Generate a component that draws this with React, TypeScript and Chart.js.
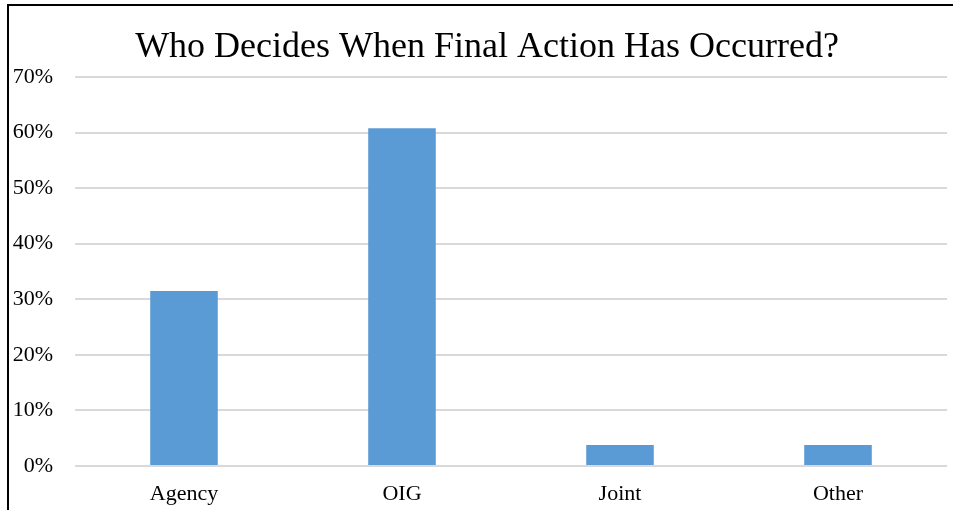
import React, { useEffect, useRef } from "react";
import { Chart, registerables } from "chart.js";

Chart.register(...registerables);

const categories = ["Agency", "OIG", "Joint", "Other"];
const shares = [31.5, 60.8, 3.8, 3.8];
const yTicks = [0, 10, 20, 30, 40, 50, 60, 70];
const titleText = "Who Decides When Final Action Has Occurred?";

export default function App() {
  const ref = useRef<HTMLCanvasElement | null>(null);
  useEffect(() => {
    document.body.style.margin = "0";
    const ctx = ref.current!;
    const font = "'Liberation Serif', 'DejaVu Serif', serif";
    const titlePlugin = {
      id: "offsetTitle",
      afterDraw(c: any) {
        const g = c.ctx;
        const a = c.chartArea;
        g.save();
        g.fillStyle = "#fff";
        g.fillRect(a.right - 2, a.bottom + 2, c.width - a.right + 2, c.height - a.bottom);
        g.font = `normal 36px ${font}`;
        g.fillStyle = "#000";
        g.textAlign = "center";
        g.textBaseline = "middle";
        g.fillText(titleText, 479, 42.5);
        g.restore();
      },
    };
    const chart = new Chart(ctx, {
      type: "bar",
      data: {
        labels: categories,
        datasets: [
          {
            data: shares,
            backgroundColor: "#5b9bd5",
            barPercentage: 0.31,
            categoryPercentage: 1,
          },
        ],
      },
      plugins: [titlePlugin],
      options: {
        animation: false,
        responsive: false,
        maintainAspectRatio: false,
        layout: { padding: { left: 0, right: 6, top: 72, bottom: 0 } },
        plugins: {
          legend: { display: false },
          tooltip: { enabled: false },
          title: { display: false },
        },
        scales: {
          x: {
            grid: { display: false, drawTicks: false },
            border: { display: false },
            ticks: {
              color: "#000",
              font: { family: font, size: 22 },
              padding: 15,
              maxRotation: 0,
            },
            afterFit: (s: any) => {
              s.height = 44;
            },
          },
          y: {
            min: 0,
            max: 70,
            afterBuildTicks: (s: any) => {
              s.ticks = yTicks.map((v) => ({ value: v }));
            },
            grid: { color: "#d9d9d9", lineWidth: 2, drawTicks: false },
            border: { display: false },
            ticks: {
              color: "#000",
              font: { family: font, size: 22 },
              padding: 22,
              callback: (v: any) => v + "%",
            },
            afterFit: (s: any) => {
              s.width = 67;
            },
          },
        },
      },
    });
    return () => chart.destroy();
  }, []);
  return (
    <div style={{ position: "absolute", left: 0, top: 0, width: 953, height: 510, background: "#fff", overflow: "hidden" }}>
      <canvas ref={ref} width={945} height={505} style={{ position: "absolute", left: 8, top: 5, width: 945, height: 505, display: "block" }} />
      <div style={{ position: "absolute", left: 7, top: 4, width: 2, height: 506, background: "#000" }} />
      <div style={{ position: "absolute", left: 7, top: 4, width: 946, height: 2, background: "#000" }} />
    </div>
  );
}
